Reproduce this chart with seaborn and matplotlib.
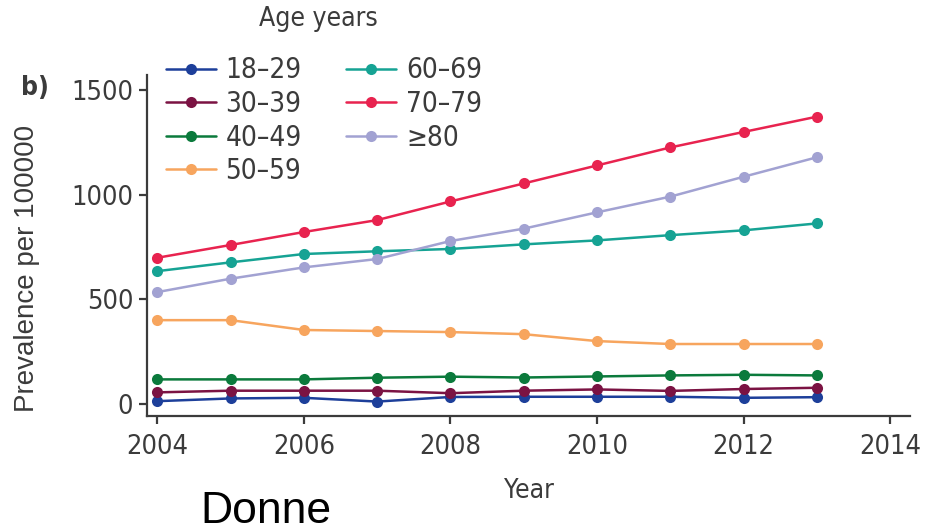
import matplotlib
matplotlib.use("Agg")
import matplotlib.pyplot as plt
from matplotlib import font_manager
import seaborn as sns
import pandas as pd

# Prevalence per 100 000 by age group, 2004-2013
years = [2004, 2005, 2006, 2007, 2008, 2009, 2010, 2011, 2012, 2013]
age_18_29 = [14, 27, 30, 12, 34, 35, 35, 35, 30, 33]
age_30_39 = [56, 64, 64, 64, 52, 64, 70, 63, 72, 78]
age_40_49 = [118, 118, 118, 126, 131, 127, 132, 137, 140, 137]
age_50_59 = [401, 401, 354, 349, 344, 334, 301, 287, 287, 287]
age_60_69 = [635, 677, 717, 730, 741, 763, 782, 807, 830, 863]
age_70_79 = [699, 760, 822, 879, 968, 1054, 1140, 1226, 1300, 1373]
age_80_plus = [535, 599, 653, 693, 779, 838, 916, 991, 1086, 1179]

groups = ["18\u201329", "30\u201339", "40\u201349", "50\u201359", "60\u201369", "70\u201379", "\u226580"]
series = [age_18_29, age_30_39, age_40_49, age_50_59, age_60_69, age_70_79, age_80_plus]
colors = ["#1d3f9a", "#7b1343", "#0b7a3c", "#f7a55e", "#16a394", "#e8234f", "#a2a2d2"]

x_ticks = [2004, 2006, 2008, 2010, 2012, 2014]
y_ticks = [0, 500, 1000, 1500]

df = pd.DataFrame(
    [(y, g, v) for g, vals in zip(groups, series) for y, v in zip(years, vals)],
    columns=["Year", "Age", "Prevalence"],
)

sns.set_theme(style="ticks")

# Pick a narrow face for the chart lettering if one is available
fonts = font_manager.fontManager.ttflist
narrow_family = ["DejaVu Sans"]
narrow_stretch = "normal"
if any(f.name == "Liberation Sans Narrow" for f in fonts):
    narrow_family = ["Liberation Sans Narrow", "DejaVu Sans"]
elif any(f.name == "DejaVu Sans" and f.stretch == "condensed" for f in fonts):
    narrow_stretch = "condensed"
plt.rcParams["font.family"] = narrow_family
plt.rcParams["font.stretch"] = narrow_stretch

ink = "#3b3b3b"
fig = plt.figure(figsize=(9.33, 5.32), dpi=100)
ax = fig.add_axes([0.1576, 0.218, 0.8177, 0.641])

sns.lineplot(
    data=df, x="Year", y="Prevalence", hue="Age", hue_order=groups,
    palette=dict(zip(groups, colors)), marker="o", markersize=8,
    markeredgewidth=0, linewidth=1.8, ax=ax, legend=True,
)

ax.set_xlim(2003.86, 2014.27)
ax.set_ylim(-57, 1572)
ax.set_xticks(x_ticks)
ax.set_yticks(y_ticks)
ax.set_xticklabels([str(t) for t in x_ticks])
ax.set_yticklabels([str(t) for t in y_ticks])
sns.despine(ax=ax)
for s in ("left", "bottom"):
    ax.spines[s].set_color(ink)
    ax.spines[s].set_linewidth(1.6)
ax.tick_params(axis="both", direction="out", length=6, width=1.6,
               color=ink, labelcolor=ink, labelsize=19.5)
ax.tick_params(axis="x", pad=7)
ax.tick_params(axis="y", pad=4)

ax.set_xlabel("Year", fontsize=19, color=ink, labelpad=13)
ax.set_ylabel("")
fig.text(0.029, 0.495, "Prevalence per 100000", rotation=90, ha="center",
         va="center", fontsize=20, color=ink, stretch="normal",
         family=["Liberation Sans", "DejaVu Sans"])
fig.text(0.022, 0.835, "b)", fontsize=19, color=ink, fontweight="bold",
         ha="left", va="center")

handles, labels = ax.get_legend_handles_labels()
leg = ax.legend(
    handles, labels, ncol=2, frameon=False, fontsize=20,
    handlelength=1.8, handletextpad=0.35, columnspacing=1.6,
    labelspacing=0.2, borderaxespad=0, loc="upper left",
    bbox_to_anchor=(0.01, 1.087),
)
for t in leg.get_texts():
    t.set_color(ink)
fig.text(0.341, 0.965, "Age years", fontsize=19, color=ink,
         ha="center", va="center")

fig.text(200 / 933, 9 / 532, "Donne", fontsize=32, color="black",
         ha="left", va="baseline", stretch="normal",
         family=["Liberation Sans", "DejaVu Sans"])

fig.savefig("out.png", dpi=100)
